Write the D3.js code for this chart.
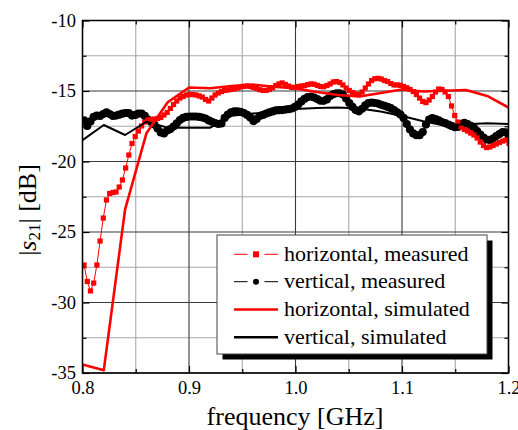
<!DOCTYPE html>
<html>
<head>
<meta charset="utf-8">
<script src="https://cdn.jsdelivr.net/npm/d3@7"></script>
<style>
  html, body { margin: 0; padding: 0; background: #fff; }
  svg { display: block; }
  text { font-family: "Liberation Serif", "Times New Roman", serif; fill: #000; }
</style>
</head>
<body>
<svg id="chart" width="518" height="430"></svg>
<script>
// Measured sweeps share one frequency grid (GHz)
const measStart = 0.8015;
const measStep = 0.003;

// |S21| of the horizontal polarisation, measured (dB)
const horizontalMeasured = [
  -27.34, -28.51, -29.18, -28.62, -27.34, -25.64, -24.01, -22.73, -22.27, -22.20,
  -22.16, -21.81, -21.31, -20.46, -19.54, -18.72, -18.23, -17.84, -17.48, -17.20,
  -17.06, -17.02, -16.99, -16.95, -16.88, -16.70, -16.52, -16.24, -15.96, -15.71,
  -15.50, -15.39, -15.28, -15.25, -15.25, -15.28, -15.35, -15.43, -15.60, -15.71,
  -15.50, -15.28, -15.14, -15.04, -14.96, -14.93, -14.89, -14.86, -14.79, -14.72,
  -14.67, -14.65, -14.68, -14.74, -14.82, -14.91, -14.96, -14.96, -14.89, -14.77,
  -14.61, -14.50, -14.43, -14.54, -14.65, -14.74, -14.75, -14.68, -14.65, -14.62,
  -14.55, -14.50, -14.52, -14.60, -14.68, -14.70, -14.61, -14.50, -14.36, -14.33,
  -14.40, -14.57, -14.79, -14.96, -15.11, -15.21, -15.25, -15.07, -14.79, -14.50,
  -14.26, -14.13, -14.10, -14.15, -14.26, -14.33, -14.47, -14.57, -14.57, -14.60,
  -14.68, -14.77, -14.89, -15.04, -15.25, -15.50, -15.74, -15.82, -15.64, -15.39,
  -15.07, -14.86, -14.89, -15.07, -15.39, -16.06, -16.74, -17.20, -17.55, -17.73,
  -17.84, -17.98, -18.12, -18.33, -18.62, -18.87, -19.01, -18.97, -18.87, -18.76,
  -18.65, -18.55, -18.48, -18.72
];

// |S21| of the vertical polarisation, measured (dB)
const verticalMeasured = [
  -17.09, -17.48, -17.16, -16.84, -16.74, -16.77, -16.63, -16.51, -16.63, -16.77,
  -16.74, -16.68, -16.61, -16.56, -16.57, -16.74, -16.70, -16.60, -16.60, -16.77,
  -17.02, -17.20, -17.38, -17.66, -17.94, -18.01, -17.80, -17.70, -17.52, -17.30,
  -17.06, -16.91, -16.84, -16.81, -16.81, -16.81, -16.84, -16.88, -16.95, -17.09,
  -17.18, -17.27, -17.34, -17.30, -16.91, -16.67, -16.52, -16.45, -16.45, -16.48,
  -16.56, -16.70, -16.88, -17.13, -16.99, -16.77, -16.70, -16.60, -16.52, -16.45,
  -16.38, -16.36, -16.35, -16.32, -16.29, -16.24, -16.13, -15.96, -15.74, -15.55,
  -15.43, -15.39, -15.46, -15.57, -15.69, -15.70, -15.60, -15.35, -15.23, -15.16,
  -15.16, -15.25, -15.53, -15.85, -16.13, -16.35, -16.44, -16.26, -16.01, -15.85,
  -15.82, -15.85, -15.89, -15.98, -16.05, -16.13, -16.22, -16.35, -16.51, -16.67,
  -16.91, -17.34, -17.73, -18.01, -18.14, -18.13, -17.91, -17.38, -17.02, -16.93,
  -17.00, -17.09, -17.20, -17.28, -17.38, -17.48, -17.57, -17.55, -17.34, -17.26,
  -17.34, -17.47, -17.62, -17.84, -18.09, -18.30, -18.44, -18.48, -18.37, -18.19,
  -18.05, -17.91, -17.94, -18.23
];

// Simulation frequencies (GHz)
const simFreq = [0.80, 0.82, 0.84, 0.86, 0.88, 0.90, 0.92, 0.94, 0.96, 0.98, 1.00,
                 1.02, 1.04, 1.06, 1.08, 1.10, 1.12, 1.14, 1.16, 1.18, 1.20];

const horizontalSimulated = [-34.4, -34.8, -23.4, -18.0, -15.8, -14.75, -14.8, -14.65, -14.55, -14.7, -14.82,
                             -15.07, -15.28, -15.39, -15.14, -14.89, -15.04, -14.98, -14.93, -15.35, -16.17];
const verticalSimulated = [-18.48, -17.41, -18.12, -17.18, -17.6, -17.6, -17.6, -16.75, -16.6, -16.5, -16.28,
                           -16.2, -16.17, -16.24, -16.45, -16.77, -17.15, -17.45, -17.35, -17.28, -17.34];

// Axis ticks
const xMajorTicks = [0.8, 0.9, 1.0, 1.1, 1.2];
const xMinorTicks = [0.85, 0.95, 1.05, 1.15];
const yMajorTicks = [-35, -30, -25, -20, -15, -10];
const yMinorTicks = [-32.5, -27.5, -22.5, -17.5, -12.5];

const legendLabels = ["horizontal, measured", "vertical, measured",
                      "horizontal, simulated", "vertical, simulated"];

const measFreq = horizontalMeasured.map((_, i) => measStart + i * measStep);

const svg = d3.select("#chart");
const plot = { left: 82.5, top: 20.5, right: 508.5, bottom: 373 };

const x = d3.scaleLinear().domain([0.8, 1.2]).range([plot.left, plot.right]);
const y = d3.scaleLinear().domain([-35, -10]).range([plot.bottom, plot.top]);

// Grid: light minor lines, dark major lines
const grid = svg.append("g");
grid.selectAll(".vmin").data(xMinorTicks).join("line")
  .attr("x1", d => x(d)).attr("x2", d => x(d))
  .attr("y1", plot.top).attr("y2", plot.bottom)
  .attr("stroke", "#a8a8a8").attr("stroke-width", 1.1);
grid.selectAll(".hmin").data(yMinorTicks).join("line")
  .attr("y1", d => y(d)).attr("y2", d => y(d))
  .attr("x1", plot.left).attr("x2", plot.right)
  .attr("stroke", "#a8a8a8").attr("stroke-width", 1.1);
grid.selectAll(".vmaj").data(xMajorTicks).join("line")
  .attr("x1", d => x(d)).attr("x2", d => x(d))
  .attr("y1", plot.top).attr("y2", plot.bottom)
  .attr("stroke", "#3a3a3a").attr("stroke-width", 1.1);
grid.selectAll(".hmaj").data(yMajorTicks).join("line")
  .attr("y1", d => y(d)).attr("y2", d => y(d))
  .attr("x1", plot.left).attr("x2", plot.right)
  .attr("stroke", "#3a3a3a").attr("stroke-width", 1.1);

// Inward ticks on all four sides
function inwardAxis(axisFn, scale, vals, size) {
  return axisFn(scale).tickValues(vals).tickSizeInner(-size).tickSizeOuter(0).tickFormat("");
}
const tickG = svg.append("g");
[[d3.axisBottom, plot.bottom], [d3.axisTop, plot.top]].forEach(([fn, pos]) => {
  tickG.append("g").attr("transform", `translate(0,${pos})`).call(inwardAxis(fn, x, xMajorTicks, 7));
  tickG.append("g").attr("transform", `translate(0,${pos})`).call(inwardAxis(fn, x, xMinorTicks, 4));
});
[[d3.axisLeft, plot.left], [d3.axisRight, plot.right]].forEach(([fn, pos]) => {
  tickG.append("g").attr("transform", `translate(${pos},0)`).call(inwardAxis(fn, y, yMajorTicks, 7));
  tickG.append("g").attr("transform", `translate(${pos},0)`).call(inwardAxis(fn, y, yMinorTicks, 4));
});
tickG.selectAll(".domain").remove();
tickG.selectAll(".tick line").attr("stroke", "#000").attr("stroke-width", 1.2);

// Tick labels
const xLab = svg.append("g").attr("transform", `translate(0,${plot.bottom})`)
  .call(d3.axisBottom(x).tickValues(xMajorTicks).tickSize(0).tickPadding(7.5).tickFormat(d3.format(".1f")));
const yLab = svg.append("g").attr("transform", `translate(${plot.left},0)`)
  .call(d3.axisLeft(y).tickValues(yMajorTicks).tickSize(0).tickPadding(6.5).tickFormat(d => String(d)));
[xLab, yLab].forEach(g => {
  g.select(".domain").remove();
  g.selectAll("text").attr("font-family", "Liberation Serif, serif").attr("font-size", 18.5).attr("fill", "#000");
});

// Data layer, clipped to the plotting frame
svg.append("clipPath").attr("id", "clip").append("rect")
  .attr("x", plot.left).attr("y", plot.top)
  .attr("width", plot.right - plot.left).attr("height", plot.bottom - plot.top);
const data = svg.append("g").attr("clip-path", "url(#clip)");

const line = d3.line().x(d => x(d[0])).y(d => y(d[1]));
const vMeas = measFreq.map((f, i) => [f, verticalMeasured[i]]);
const hMeas = measFreq.map((f, i) => [f, horizontalMeasured[i]]);
const vSim = simFreq.map((f, i) => [f, verticalSimulated[i]]);
const hSim = simFreq.map((f, i) => [f, horizontalSimulated[i]]);

// vertical, measured: thin line with filled circles
data.append("path").datum(vMeas).attr("d", line)
  .attr("fill", "none").attr("stroke", "#000").attr("stroke-width", 1);
data.selectAll(".vdot").data(vMeas).join("circle")
  .attr("cx", d => x(d[0])).attr("cy", d => y(d[1])).attr("r", 4.1).attr("fill", "#000");

// horizontal, measured: thin line with filled squares
const sq = 5.2;
data.append("path").datum(hMeas).attr("d", line)
  .attr("fill", "none").attr("stroke", "#ff0000").attr("stroke-width", 1);
data.selectAll(".hsq").data(hMeas).join("rect")
  .attr("x", d => x(d[0]) - sq / 2).attr("y", d => y(d[1]) - sq / 2)
  .attr("width", sq).attr("height", sq).attr("fill", "#ff0000");

// simulated curves
data.append("path").datum(vSim).attr("d", line)
  .attr("fill", "none").attr("stroke", "#000").attr("stroke-width", 2)
  .attr("stroke-linejoin", "round");
data.append("path").datum(hSim).attr("d", line)
  .attr("fill", "none").attr("stroke", "#ff0000").attr("stroke-width", 2.6)
  .attr("stroke-linejoin", "round");

// Frame
svg.append("rect")
  .attr("x", plot.left).attr("y", plot.top)
  .attr("width", plot.right - plot.left).attr("height", plot.bottom - plot.top)
  .attr("fill", "none").attr("stroke", "#000").attr("stroke-width", 1.5);

// Axis titles
svg.append("text")
  .attr("x", 295).attr("y", 424.5).attr("text-anchor", "middle")
  .attr("font-size", 26).text("frequency [GHz]");

const yTitle = svg.append("text")
  .attr("transform", "translate(36,210) rotate(-90)")
  .attr("text-anchor", "middle").attr("font-size", 26);
yTitle.append("tspan").text("|");
yTitle.append("tspan").attr("font-style", "italic").text("s");
yTitle.append("tspan").attr("font-size", 17).attr("dy", 4).text("21");
yTitle.append("tspan").attr("dy", -4).text("| [dB]");

// Legend with drop shadow
const lg = { x: 217, y: 235, w: 270, h: 119 };
svg.append("rect").attr("x", lg.x + 5.5).attr("y", lg.y + 5.5)
  .attr("width", lg.w).attr("height", lg.h).attr("fill", "#000");
svg.append("rect").attr("x", lg.x).attr("y", lg.y)
  .attr("width", lg.w).attr("height", lg.h)
  .attr("fill", "#fff").attr("stroke", "#444").attr("stroke-width", 1);

const rowY = [254.3, 281.7, 309.5, 337.3];
const sx0 = 234, sx1 = 278, smid = 256;
legendLabels.forEach((lab, i) => {
  const cy = rowY[i];
  const g = svg.append("g");
  if (i < 2) {
    const col = i === 0 ? "#ff0000" : "#000";
    g.append("line").attr("x1", sx0).attr("x2", 247.5).attr("y1", cy).attr("y2", cy)
      .attr("stroke", col).attr("stroke-width", 1);
    g.append("line").attr("x1", 264.5).attr("x2", sx1).attr("y1", cy).attr("y2", cy)
      .attr("stroke", col).attr("stroke-width", 1);
    if (i === 0) {
      g.append("rect").attr("x", smid - 3).attr("y", cy - 3).attr("width", 6).attr("height", 6).attr("fill", col);
    } else {
      g.append("circle").attr("cx", smid).attr("cy", cy).attr("r", 3).attr("fill", col);
    }
  } else {
    const col = i === 2 ? "#ff0000" : "#000";
    g.append("line").attr("x1", sx0).attr("x2", sx1).attr("y1", cy).attr("y2", cy)
      .attr("stroke", col).attr("stroke-width", 2.6);
  }
  g.append("text").attr("x", 284).attr("y", cy + 6.2).attr("font-size", 22).text(lab);
});
</script>
</body>
</html>
